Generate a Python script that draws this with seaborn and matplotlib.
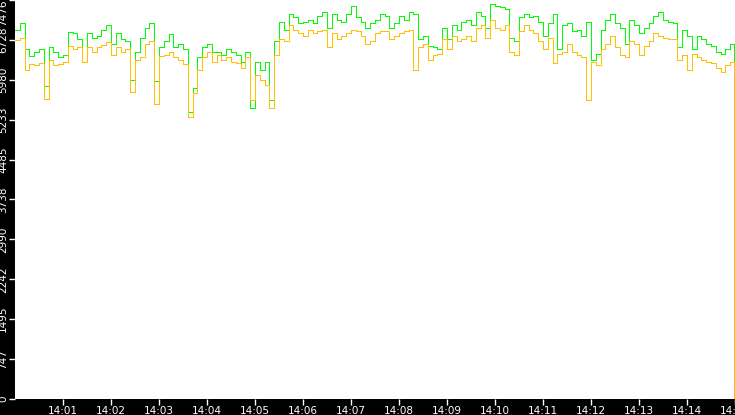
import pandas as pd
import numpy as np
import matplotlib
matplotlib.use('Agg')
import matplotlib.pyplot as plt
import matplotlib.dates as mdates
import seaborn as sns

# samples every 6 s from 14:00:00, last sample at 14:14:59
green = [6920, 7050, 6550, 6420, 6510, 6550, 5870, 6590, 6510, 6400,
         6450, 6880, 6850, 6740, 6320, 6850, 6770, 6810, 6920, 7000,
         6660, 6850, 6740, 6700, 5980, 6510, 6770, 6960, 7040, 5950,
         6600, 6700, 6830, 6590, 6660, 6550, 5380, 5830, 6400, 6590,
         6660, 6510, 6510, 6450, 6550, 6510, 6440, 6320, 6510, 5460,
         6320, 6170, 6320, 5610, 6700, 7070, 6920, 7220, 7150, 7040,
         7070, 7110, 7040, 7180, 7260, 6960, 7220, 7110, 7070, 7220,
         7370, 7150, 7070, 6960, 7040, 7110, 7220, 7180, 6960, 7040,
         7170, 7110, 7260, 7220, 6740, 6810, 6620, 6590, 6550, 6960,
         6740, 7000, 6920, 7070, 7110, 7000, 7260, 7180, 6960, 7410,
         7370, 7340, 7300, 6770, 6700, 7150, 7220, 7150, 7180, 7070,
         6810, 7040, 7220, 6550, 7000, 7040, 6890, 6920, 6810, 7070,
         6360, 6470, 6920, 7110, 7220, 7040, 6960, 6660, 7110, 7000,
         6850, 6960, 7040, 7180, 7260, 7110, 7070, 7040, 6590, 6920,
         6810, 6550, 6810, 6740, 6660, 6620, 6510, 6470, 6550, 6660,
         3230]

orange = [6735, 6770, 6170, 6270, 6250, 6300, 5630, 6360, 6250, 6270,
          6320, 6620, 6550, 6590, 6320, 6590, 6510, 6600, 6640, 6680,
          6450, 6590, 6510, 6550, 5760, 6360, 6400, 6660, 6700, 5520,
          6420, 6440, 6510, 6400, 6360, 6270, 5290, 5740, 6170, 6400,
          6510, 6320, 6440, 6360, 6400, 6320, 6290, 6210, 6400, 5600,
          6080, 5980, 5890, 5460, 6450, 6740, 6700, 7000, 6920, 6850,
          6810, 6920, 6850, 6890, 6920, 6590, 6850, 6740, 6810, 6850,
          6920, 6890, 6810, 6660, 6700, 6850, 6890, 6890, 6740, 6810,
          6850, 6890, 6920, 6170, 6590, 6660, 6360, 6440, 6470, 6740,
          6550, 6810, 6700, 6740, 6810, 6700, 6960, 7000, 6770, 7110,
          6960, 6920, 7000, 6510, 6440, 6890, 7000, 6920, 6850, 6700,
          6550, 6770, 6290, 6470, 6510, 6660, 6510, 6440, 6400, 5610,
          6320, 6250, 6550, 6660, 6810, 6590, 6440, 6400, 6700, 6660,
          6440, 6620, 6700, 6850, 6810, 6770, 6740, 6740, 6360, 6440,
          6170, 6470, 6400, 6360, 6320, 6290, 6210, 6130, 6250, 6320,
          0]

ytick_values = [0, 747.6, 1495.2, 2242.8, 2990.4, 3738, 4485.6, 5233.2, 5980.8, 6728.4, 7476]
ytick_labels = ['0', '747', '1495', '2242', '2990', '3738', '4485', '5233', '5980', '6728', '7476']

start = pd.Timestamp('2024-01-01 14:00:00')
times = list(pd.date_range(start, periods=150, freq='6s')) + [start + pd.Timedelta(seconds=899)]
df = pd.DataFrame({'time': times, 'green': green, 'orange': orange})

fig = plt.figure(figsize=(7.35, 4.15), dpi=100, facecolor='black')
ax = fig.add_axes([15/735, 16/415, 720/735, 399/415])
ax.set_facecolor('white')

sns.lineplot(data=df, x='time', y='green', ax=ax, color='#00ff00', linewidth=0.6,
             drawstyle='steps-post', antialiased=False, estimator=None)
sns.lineplot(data=df, x='time', y='orange', ax=ax, color='#ffc000', linewidth=0.6,
             drawstyle='steps-post', antialiased=False, estimator=None)

ax.set_xlim(start, start + pd.Timedelta(minutes=15))
ax.set_ylim(0, 7476)
ax.set_xticks([start + pd.Timedelta(minutes=m) for m in range(1, 16)])
ax.xaxis.set_major_formatter(mdates.DateFormatter('%H:%M'))
ax.set_yticks(ytick_values)
ax.set_yticklabels(ytick_labels)
ax.set_xlabel('')
ax.set_ylabel('')
for s in ax.spines.values():
    s.set_visible(False)

ax.tick_params(axis='x', colors='white', length=4, width=1, pad=1, labelsize=7.5)
ax.tick_params(axis='y', colors='white', length=4, width=1, pad=1, labelsize=7.5)
for lab in ax.get_yticklabels():
    lab.set_rotation(90)
    lab.set_va('center')
ax.get_yticklabels()[-1].set_va('top')

fig.savefig('out.png', dpi=100, facecolor='black')
